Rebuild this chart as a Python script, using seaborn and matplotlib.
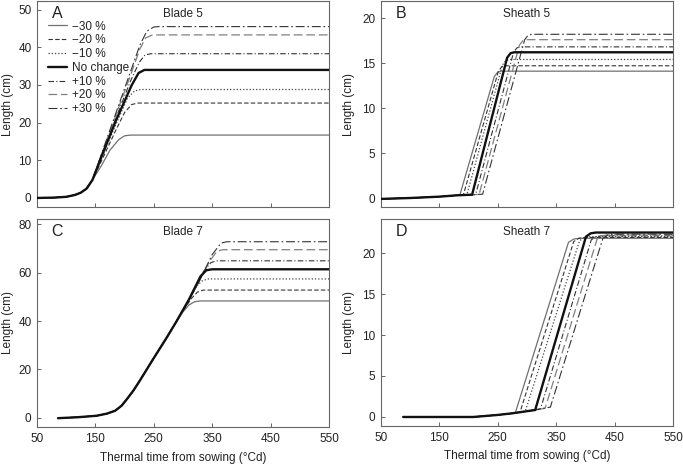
import matplotlib
matplotlib.use("Agg")
import matplotlib.pyplot as plt
import seaborn as sns
import pandas as pd

# ---------------- data ----------------
SERIES = ["\u221230 %", "\u221220 %", "\u221210 %", "No change", "+10 %", "+20 %", "+30 %"]

# Blade 5 : shared early part, then one tail per series
BLADE5_BASE_T = [50, 80, 100, 115, 125, 135, 145]
BLADE5_BASE_L = [0.0, 0.1, 0.3, 0.8, 1.4, 2.5, 4.8]
BLADE5_TAIL_T = [
    [160, 175, 190, 200, 210, 550],
    [160, 185, 200, 212, 222, 550],
    [160, 185, 205, 217, 228, 550],
    [160, 185, 212, 224, 234, 550],
    [160, 185, 210, 225, 235, 245, 550],
    [160, 185, 210, 226, 236, 248, 550],
    [160, 185, 210, 226, 238, 250, 258, 550],
]
BLADE5_TAIL_L = [
    [8.5, 12.7, 15.5, 16.5, 16.7, 16.7],
    [9.7, 18.0, 22.7, 24.8, 25.2, 25.2],
    [10.3, 19.5, 26.5, 28.4, 28.8, 28.8],
    [10.8, 20.5, 29.9, 33.2, 34.0, 34.0],
    [11.1, 21.2, 31.0, 36.0, 38.0, 38.3, 38.3],
    [11.3, 22.0, 32.5, 39.5, 42.5, 43.3, 43.3],
    [11.5, 22.5, 33.5, 40.5, 44.3, 45.4, 45.5, 45.5],
]

# Sheath 5
SHEATH5_BASE_T = [50, 100, 150, 180]
SHEATH5_BASE_L = [-0.1, 0.0, 0.15, 0.3]
SHEATH5_TAIL_T = [
    [185, 244, 250, 256, 550],
    [191, 251, 257, 263, 550],
    [197, 258, 264, 270, 550],
    [206, 266, 272, 278, 550],
    [212, 277, 283, 289, 550],
    [218, 287, 293, 299, 550],
    [224, 296, 302, 308, 550],
]
SHEATH5_TAIL_L = [
    [0.33, 13.5, 14.0, 14.1, 14.1],
    [0.34, 14.1, 14.6, 14.7, 14.7],
    [0.35, 14.8, 15.3, 15.4, 15.4],
    [0.37, 15.6, 16.1, 16.2, 16.2],
    [0.38, 16.2, 16.7, 16.8, 16.8],
    [0.40, 17.0, 17.5, 17.6, 17.6],
    [0.42, 17.6, 18.1, 18.2, 18.2],
]

# Blade 7
BLADE7_BASE_T = [86, 120, 152, 170, 184, 195, 204, 215, 226, 249, 272, 288]
BLADE7_BASE_L = [-0.2, 0.2, 0.8, 1.7, 2.9, 5.0, 7.7, 11.2, 15.3, 24.3, 33.1, 39.5]
BLADE7_TAIL_T = [
    [300, 310, 320, 330, 550],
    [300, 315, 325, 335, 550],
    [305, 320, 332, 342, 550],
    [310, 330, 340, 350, 550],
    [315, 335, 348, 358, 550],
    [320, 345, 358, 368, 550],
    [325, 350, 365, 375, 550],
]
BLADE7_TAIL_L = [
    [43.8, 46.6, 48.0, 48.3, 48.3],
    [44.3, 49.5, 52.0, 52.8, 52.8],
    [46.5, 53.5, 56.5, 57.4, 57.4],
    [48.8, 58.5, 61.0, 61.4, 61.4],
    [51.0, 60.5, 64.2, 64.9, 64.9],
    [53.0, 64.5, 68.8, 69.5, 69.5],
    [55.0, 67.5, 72.2, 72.8, 72.8],
]

# Sheath 7
SHEATH7_BASE_T = [88, 150, 208, 250, 275]
SHEATH7_BASE_L = [0.0, 0.0, 0.0, 0.25, 0.45]
SHEATH7_TAIL_T = [
    [280, 371, 380, 390, 550],
    [288, 380, 389, 399, 550],
    [297, 390, 399, 409, 550],
    [314, 401, 409, 418, 550],
    [323, 410, 418, 428, 550],
    [331, 420, 428, 437, 550],
    [340, 430, 438, 447, 550],
]
SHEATH7_TAIL_L = [
    [0.50, 21.3, 21.7, 21.8, 21.8],
    [0.58, 21.4, 21.8, 21.9, 21.9],
    [0.68, 21.5, 21.9, 22.0, 22.0],
    [0.85, 22.0, 22.4, 22.5, 22.5],
    [0.95, 21.6, 22.0, 22.1, 22.1],
    [1.05, 21.7, 22.1, 22.2, 22.2],
    [1.20, 21.8, 22.2, 22.3, 22.3],
]

PANELS = [
    ("A", "Blade 5", BLADE5_BASE_T, BLADE5_BASE_L, BLADE5_TAIL_T, BLADE5_TAIL_L, [0, 10, 20, 30, 40, 50], (-2.4, 52.3)),
    ("B", "Sheath 5", SHEATH5_BASE_T, SHEATH5_BASE_L, SHEATH5_TAIL_T, SHEATH5_TAIL_L, [0, 5, 10, 15, 20], (-1.0, 21.9)),
    ("C", "Blade 7", BLADE7_BASE_T, BLADE7_BASE_L, BLADE7_TAIL_T, BLADE7_TAIL_L, [0, 20, 40, 60, 80], (-3.85, 82.2)),
    ("D", "Sheath 7", SHEATH7_BASE_T, SHEATH7_BASE_L, SHEATH7_TAIL_T, SHEATH7_TAIL_L, [0, 5, 10, 15, 20], (-1.1, 24.15)),
]
X_TICKS = [50, 150, 250, 350, 450, 550]

# ---------------- styles ----------------
STYLES = [
    dict(color="#707070", lw=0.9, ls="-"),
    dict(color="#333333", lw=0.8, ls=(0, (4, 2))),
    dict(color="#444444", lw=0.9, ls=(0, (1, 1.6))),
    dict(color="#111111", lw=1.7, ls="-"),
    dict(color="#333333", lw=0.8, ls=(0, (5, 2, 1, 2))),
    dict(color="#808080", lw=0.9, ls=(0, (7, 3))),
    dict(color="#333333", lw=0.8, ls=(0, (8, 2.5, 1.5, 2.5))),
]

sns.set_style("ticks")
plt.rcParams["font.family"] = ["Liberation Sans", "DejaVu Sans"]
plt.rcParams["font.size"] = 8.5

fig = plt.figure(figsize=(6.83, 4.66), dpi=100)
W, H = 683.0, 466.0
boxes = {
    "A": (37, 1, 329, 207),
    "B": (381, 1, 673, 207),
    "C": (37, 219, 329, 427),
    "D": (381, 219, 673, 426),
}
YLABEL_X = {"A": -0.080, "B": -0.090, "C": -0.080, "D": -0.090}

spine_c = "#666666"
for letter, title, bt, bl, tts, tls, yt, ylim in PANELS:
    x0, y0, x1, y1 = boxes[letter]
    ax = fig.add_axes([x0 / W, 1 - y1 / H, (x1 - x0) / W, (y1 - y0) / H])
    for i, name in enumerate(SERIES):
        t = list(bt) + list(tts[i])
        l = list(bl) + list(tls[i])
        df = pd.DataFrame({"t": t, "L": l})
        st = STYLES[i]
        sns.lineplot(data=df, x="t", y="L", ax=ax, sort=False, estimator=None,
                     color=st["color"], linewidth=st["lw"], linestyle=st["ls"],
                     label=name if letter == "A" else None, zorder=3 if i == 3 else 2)
    ax.set_xlim(50, 550)
    ax.set_ylim(*ylim)
    ax.set_xticks(X_TICKS)
    ax.set_yticks(yt)
    ax.tick_params(direction="in", length=3, width=0.7, color=spine_c,
                   labelsize=8.5, pad=4, labelcolor="#222222")
    for sp in ax.spines.values():
        sp.set_color(spine_c)
        sp.set_linewidth(0.8)
    ax.set_ylabel("Length (cm)", fontsize=8.5, color="#222222")
    ax.yaxis.set_label_coords(YLABEL_X[letter], 0.5)
    if letter in ("A", "B"):
        ax.set_xticklabels([])
        ax.set_xlabel("")
    else:
        ax.set_xlabel("Thermal time from sowing (\u00b0Cd)", fontsize=8.5, color="#222222", labelpad=5)
    ax.text(0.5, 0.965, title, transform=ax.transAxes, ha="center", va="top",
            fontsize=8.5, color="#222222")
    ax.text(0.05, 0.975, letter, transform=ax.transAxes, ha="left", va="top",
            fontsize=11.5, color="#222222")
    if letter == "A":
        leg = ax.legend(loc="upper left", bbox_to_anchor=(0.036, 0.905), frameon=False,
                        fontsize=8.5, handlelength=1.65, handletextpad=0.45,
                        labelspacing=0.15, borderpad=0, borderaxespad=0)
        for txt in leg.get_texts():
            txt.set_color("#222222")
    else:
        lg = ax.get_legend()
        if lg is not None:
            lg.remove()

fig.savefig("out.png", dpi=100)
